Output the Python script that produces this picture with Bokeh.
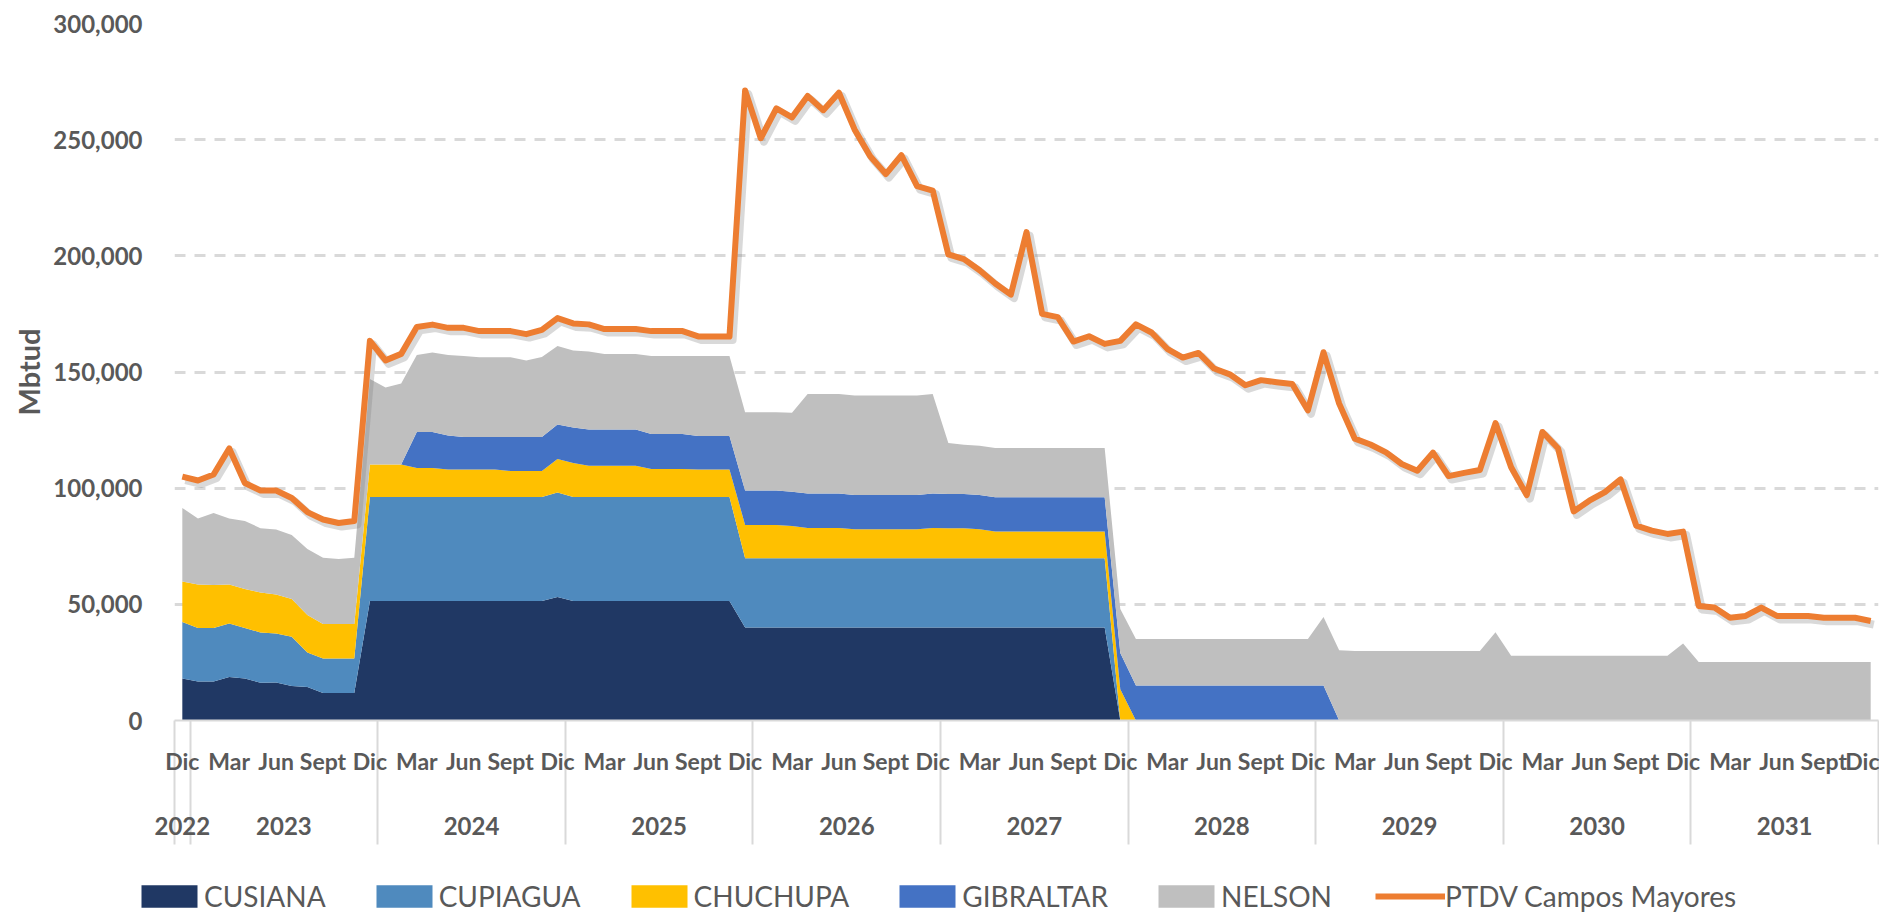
from bokeh.plotting import figure
from bokeh.layouts import column, row
from bokeh.models import (ColumnDataSource, Range1d, FixedTicker, SingleIntervalTicker,
                          NumeralTickFormatter, LinearAxis, Grid)
from bokeh.transform import dodge
from bokeh.embed import file_html
from bokeh.resources import INLINE

# ---------------- data (Mbtud, monthly Dic-2022 .. Dic-2031) ----------------
meses = ["Dic"] + ["Ene", "Feb", "Mar", "Abr", "May", "Jun", "Jul", "Ago", "Sept", "Oct", "Nov", "Dic"] * 9
anios = ["2022", "2023", "2024", "2025", "2026", "2027", "2028", "2029", "2030", "2031"]
anio_de_mes = ["2022"] + [a for a in anios[1:] for _ in range(12)]

cusiana = [18100,
           16800, 16800, 18700, 18100, 16300, 16400, 14900, 14400, 11800, 11800, 11800, 51400,
           51400, 51400, 51400, 51400, 51400, 51400, 51400, 51400, 51400, 51400, 51400, 53200,
           51400, 51400, 51400, 51400, 51400, 51400, 51400, 51400, 51400, 51400, 51400, 40000,
           40000, 40000, 40000, 40000, 40000, 40000, 40000, 40000, 40000, 40000, 40000, 40000,
           40000, 40000, 40000, 40000, 40000, 40000, 40000, 40000, 40000, 40000, 40000, 0,
           0, 0, 0, 0, 0, 0, 0, 0, 0, 0, 0, 0,
           0, 0, 0, 0, 0, 0, 0, 0, 0, 0, 0, 0,
           0, 0, 0, 0, 0, 0, 0, 0, 0, 0, 0, 0,
           0, 0, 0, 0, 0, 0, 0, 0, 0, 0, 0, 0]

cupiagua = [24300,
            23000, 23000, 23000, 21700, 21600, 21000, 21200, 14900, 14900, 14900, 14900, 44800,
            44800, 44800, 44800, 44800, 44800, 44800, 44800, 44800, 44800, 44800, 44800, 44900,
            44800, 44800, 44800, 44800, 44800, 44800, 44800, 44800, 44800, 44800, 44800, 29800,
            29800, 29800, 29800, 29800, 29800, 29800, 29800, 29800, 29800, 29800, 29800, 29800,
            29800, 29800, 29800, 29800, 29800, 29800, 29800, 29800, 29800, 29800, 29800, 0,
            0, 0, 0, 0, 0, 0, 0, 0, 0, 0, 0, 0,
            0, 0, 0, 0, 0, 0, 0, 0, 0, 0, 0, 0,
            0, 0, 0, 0, 0, 0, 0, 0, 0, 0, 0, 0,
            0, 0, 0, 0, 0, 0, 0, 0, 0, 0, 0, 0]

chuchupa = [17400,
            18700, 18500, 16800, 16800, 17200, 16800, 16200, 16100, 14800, 14800, 14800, 14000,
            14000, 14000, 12500, 12500, 11800, 11800, 11800, 11800, 11200, 11200, 11200, 14500,
            14600, 13500, 13500, 13500, 13500, 12100, 12100, 12100, 11800, 11800, 11800, 14400,
            14400, 14400, 13900, 13100, 13100, 13100, 12500, 12500, 12500, 12500, 12500, 13100,
            12900, 12900, 12500, 11500, 11500, 11500, 11500, 11500, 11500, 11500, 11500, 13500,
            0, 0, 0, 0, 0, 0, 0, 0, 0, 0, 0, 0,
            0, 0, 0, 0, 0, 0, 0, 0, 0, 0, 0, 0,
            0, 0, 0, 0, 0, 0, 0, 0, 0, 0, 0, 0,
            0, 0, 0, 0, 0, 0, 0, 0, 0, 0, 0, 0]

gibraltar = [0,
             0, 0, 0, 0, 0, 0, 0, 0, 0, 0, 0, 0,
             0, 0, 15500, 15500, 14700, 14000, 14000, 14000, 14600, 14600, 14600, 14800,
             15300, 15500, 15500, 15500, 15500, 15000, 15000, 15000, 14400, 14400, 14400, 14800,
             14800, 14800, 14800, 14800, 14800, 14800, 14800, 14800, 14800, 14800, 14800, 14800,
             14800, 14800, 14800, 14800, 14800, 14800, 14800, 14800, 14800, 14800, 14800, 15500,
             15100, 15100, 15100, 15100, 15100, 15100, 15100, 15100, 15100, 15100, 15100, 15100,
             15100, 0, 0, 0, 0, 0, 0, 0, 0, 0, 0, 0,
             0, 0, 0, 0, 0, 0, 0, 0, 0, 0, 0, 0,
             0, 0, 0, 0, 0, 0, 0, 0, 0, 0, 0, 0]

nelson = [31700,
          28400, 31000, 28400, 29300, 27700, 28000, 27500, 28400, 28500, 28000, 28500, 36800,
          33100, 34900, 33100, 34200, 34600, 34900, 34300, 34300, 34300, 33000, 34500, 33800,
          33200, 33600, 32600, 32600, 32600, 33600, 33600, 33600, 34500, 34500, 34500, 33700,
          33700, 33700, 34000, 42800, 42800, 42800, 42800, 42800, 42800, 42800, 42800, 42800,
          21900, 21200, 21200, 21200, 21200, 21200, 21200, 21200, 21200, 21200, 21200, 19000,
          20000, 20000, 20000, 20000, 20000, 20000, 20000, 20000, 20000, 20000, 20000, 20000,
          29500, 30200, 29900, 29900, 29900, 29900, 29900, 29900, 29900, 29900, 29900, 38000,
          27900, 27900, 27900, 27900, 27900, 27900, 27900, 27900, 27900, 27900, 27900, 33100,
          25200, 25200, 25200, 25200, 25200, 25200, 25200, 25200, 25200, 25200, 25200, 25200]

ptdv = [105000,
        103300, 105900, 117100, 102200, 99000, 99000, 95800, 89700, 86500, 85000, 85900, 163400,
        155000, 157800, 169400, 170400, 169000, 169000, 167600, 167600, 167600, 166300, 168100, 173200,
        170900, 170500, 168500, 168500, 168500, 167600, 167600, 167600, 165300, 165300, 165300, 271200,
        250600, 263500, 259600, 268800, 262700, 270200, 254400, 242900, 235200, 243300, 230000, 228100,
        200600, 198600, 193800, 188100, 183300, 210200, 175000, 173600, 163100, 165400, 162100, 163400,
        170500, 167000, 160000, 156200, 158200, 151500, 149000, 144300, 146500, 145600, 144800, 133500,
        158500, 136400, 121300, 118800, 115400, 110400, 107500, 115300, 105200, 106600, 107800, 128000,
        109000, 97000, 124200, 117200, 90000, 94600, 98300, 103800, 83900, 81700, 80300, 81300,
        49300, 48600, 44200, 45000, 48600, 45000, 45000, 45000, 44200, 44200, 44200, 42800]

series = ["CUSIANA", "CUPIAGUA", "CHUCHUPA", "GIBRALTAR", "NELSON"]
colores = ["#203864", "#4F8ABE", "#FFC000", "#4472C4", "#BFBFBF"]
linea_nombre = "PTDV Campos Mayores"
linea_color = "#ED7D31"

# ---------------- derived positions ----------------
n = len(meses)
idx = list(range(n))
src = ColumnDataSource(dict(x=idx, CUSIANA=cusiana, CUPIAGUA=cupiagua, CHUCHUPA=chuchupa,
                            GIBRALTAR=gibraltar, NELSON=nelson, ptdv=ptdv))

mes_ticks = idx[::3]
mes_labels = {t: meses[t] for t in mes_ticks}
year_centers = {}
for a in anios:
    ii = [i for i in idx if anio_de_mes[i] == a]
    year_centers[a] = sum(ii) / len(ii)
separadores = [-0.5] + [i - 0.5 for i in idx[1:] if anio_de_mes[i] != anio_de_mes[i - 1]] + [n - 0.5]

TXT = "#595959"
FONT = "Lato"
W = 1879


def drop_default_grids(fig):
    fig.center = [r for r in fig.center if not isinstance(r, Grid)]


p = figure(width=W, height=866, x_range=Range1d(-0.5, n - 0.5), y_range=Range1d(0, 300000),
           output_backend="svg", toolbar_location=None, x_axis_location=None, y_axis_location=None,
           min_border_left=174, min_border_top=23, min_border_right=1, min_border_bottom=146,
           outline_line_color=None, background_fill_color="white", border_fill_color="white")
drop_default_grids(p)

# y axis
yax = LinearAxis(ticker=SingleIntervalTicker(interval=50000), formatter=NumeralTickFormatter(format="0,0"),
                 axis_label="Mbtud", axis_line_color=None, major_tick_line_color=None,
                 minor_tick_line_color=None, major_label_standoff=26, axis_label_standoff=4,
                 major_label_text_font=FONT, major_label_text_font_style="bold",
                 major_label_text_font_size="24px", major_label_text_color=TXT,
                 axis_label_text_font=FONT, axis_label_text_font_style="bold",
                 axis_label_text_font_size="29px", axis_label_text_color=TXT)
p.add_layout(yax, "left")
p.add_layout(Grid(dimension=1, ticker=yax.ticker, grid_line_color="#D9D9D9",
                  grid_line_dash="11 9", grid_line_width=3))

# x axis: months + year separators (minor ticks)
xa = LinearAxis(ticker=FixedTicker(ticks=mes_ticks, minor_ticks=separadores),
                major_label_overrides=mes_labels, major_tick_in=0, major_tick_out=0,
                major_tick_line_color=None, minor_tick_in=0, minor_tick_out=124,
                minor_tick_line_color="#D9D9D9", minor_tick_line_width=2,
                axis_line_color="#D9D9D9", axis_line_width=2, major_label_standoff=-98,
                major_label_text_font=FONT, major_label_text_font_style="bold",
                major_label_text_font_size="23px", major_label_text_color=TXT)
p.add_layout(xa, "below")

xb = LinearAxis(ticker=FixedTicker(ticks=list(year_centers.values())),
                major_label_overrides={c: a for a, c in year_centers.items()},
                axis_line_color=None, major_tick_line_color=None, minor_tick_line_color=None,
                major_label_standoff=33, major_label_text_font=FONT, major_label_text_font_style="bold",
                major_label_text_font_size="24px", major_label_text_color=TXT)
p.add_layout(xb, "below")

# stacked areas
p.varea_stack(stackers=series, x="x", color=colores, source=src)

# line with a soft shadow
p.line(x=dodge("x", 0.2, range=p.x_range), y=dodge("ptdv", -1500, range=p.y_range), source=src,
       line_color="#808080", line_alpha=0.3, line_width=8, line_join="round")
p.line(x="x", y="ptdv", source=src, line_color=linea_color, line_width=6, line_join="round")

# ---------------- legend strip (same series, ranges kept off-view so only the legend shows) ----------------
leg = figure(width=W, height=48, x_range=Range1d(-0.5, n - 0.5), y_range=Range1d(-2, -1),
             output_backend="svg", toolbar_location=None, x_axis_location=None, y_axis_location=None,
             min_border_left=0, min_border_top=0, min_border_right=0, min_border_bottom=0,
             outline_line_color=None, background_fill_color="white", border_fill_color="white")
drop_default_grids(leg)
leg.varea_stack(stackers=series, x="x", color=colores, source=src, legend_label=series)
leg.line(x="x", y="ptdv", source=src, line_color=linea_color, line_width=6, legend_label=linea_nombre)

lg = leg.legend[0]
lg.orientation = "horizontal"
lg.location = (134, 1)
lg.glyph_width = 70
lg.glyph_height = 28
lg.label_standoff = 0
lg.spacing = 43
lg.padding = 0
lg.margin = 0
lg.label_text_font = FONT
lg.label_text_font_size = "28px"
lg.label_text_color = TXT
lg.border_line_color = None
lg.background_fill_alpha = 0

layout = column(p, row(leg, spacing=0), spacing=0)
open("out.html", "w").write(file_html(layout, INLINE))
